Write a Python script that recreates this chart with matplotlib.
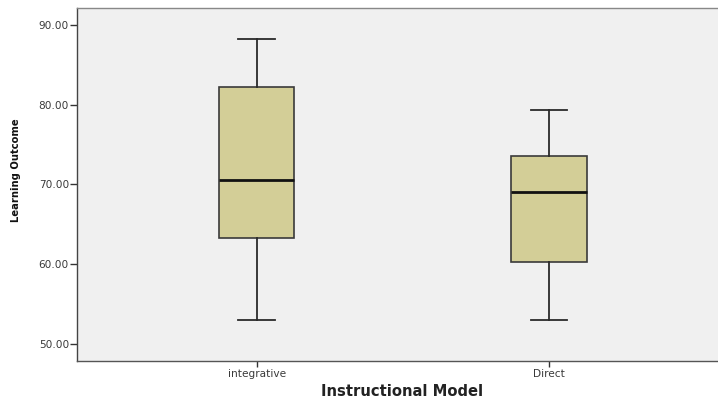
import matplotlib
matplotlib.use("Agg")
import matplotlib.pyplot as plt

categories = ["integrative", "Direct"]
whisker_low = [52.95, 52.95]
q1 = [63.27, 60.26]
median = [70.55, 69.08]
q3 = [82.26, 73.53]
whisker_high = [88.2, 79.33]
y_ticks = [50, 60, 70, 80, 90]

W, H = 718, 401
fig = plt.figure(figsize=(W / 100, H / 100), dpi=100)
left_px, top_px, bottom_px = 77.3, 7.5, 361
ax = fig.add_axes([left_px / W, (H - bottom_px) / H, 1 - left_px / W, (bottom_px - top_px) / H])
ax.set_facecolor("#F0F0F0")

stats = []
for i, c in enumerate(categories):
    stats.append(dict(label=c, whislo=whisker_low[i], q1=q1[i], med=median[i],
                      q3=q3[i], whishi=whisker_high[i], fliers=[]))

ax.bxp(stats, positions=[1, 2], widths=0.257, patch_artist=True, showfliers=False,
       boxprops=dict(facecolor="#D3CE97", edgecolor="#3a3a3a", linewidth=1.2),
       medianprops=dict(color="#111111", linewidth=2.0),
       whiskerprops=dict(color="#2a2a2a", linewidth=1.3),
       capprops=dict(color="#2a2a2a", linewidth=1.3),
       capwidths=0.126)

ax.set_xlim(0.386, 2.578)
ax.set_ylim(47.84, 92.2)
ax.set_yticks(y_ticks)
ax.set_yticklabels([f"{v:.2f}" for v in y_ticks])
ax.set_xticks([1, 2])
ax.set_xticklabels(categories)

for lab in ax.get_yticklabels() + ax.get_xticklabels():
    lab.set_family("DejaVu Sans")
    lab.set_fontsize(7.6)
    lab.set_color("#3a3a3a")

ax.tick_params(axis="y", length=5, width=1, color="#333333", pad=1)
ax.tick_params(axis="x", length=4, width=1, color="#333333", pad=2)

ax.spines["left"].set_color("#444444")
ax.spines["bottom"].set_color("#555555")
ax.spines["top"].set_color("#888888")
ax.spines["right"].set_visible(False)
for s in ["left", "bottom", "top"]:
    ax.spines[s].set_linewidth(1.0)

fig.text(16.5 / W, 1 - 170.5 / H, "Learning Outcome",
         family="DejaVu Sans", stretch="condensed", fontweight="bold",
         fontsize=8, color="#111111", rotation=90, ha="center", va="center")
fig.text(402 / W, 1 - 391 / H, "Instructional Model", family="DejaVu Sans",
         fontweight="bold", fontsize=10.6, color="#222222", ha="center", va="center")

fig.savefig("out.png", dpi=100, facecolor="white")
